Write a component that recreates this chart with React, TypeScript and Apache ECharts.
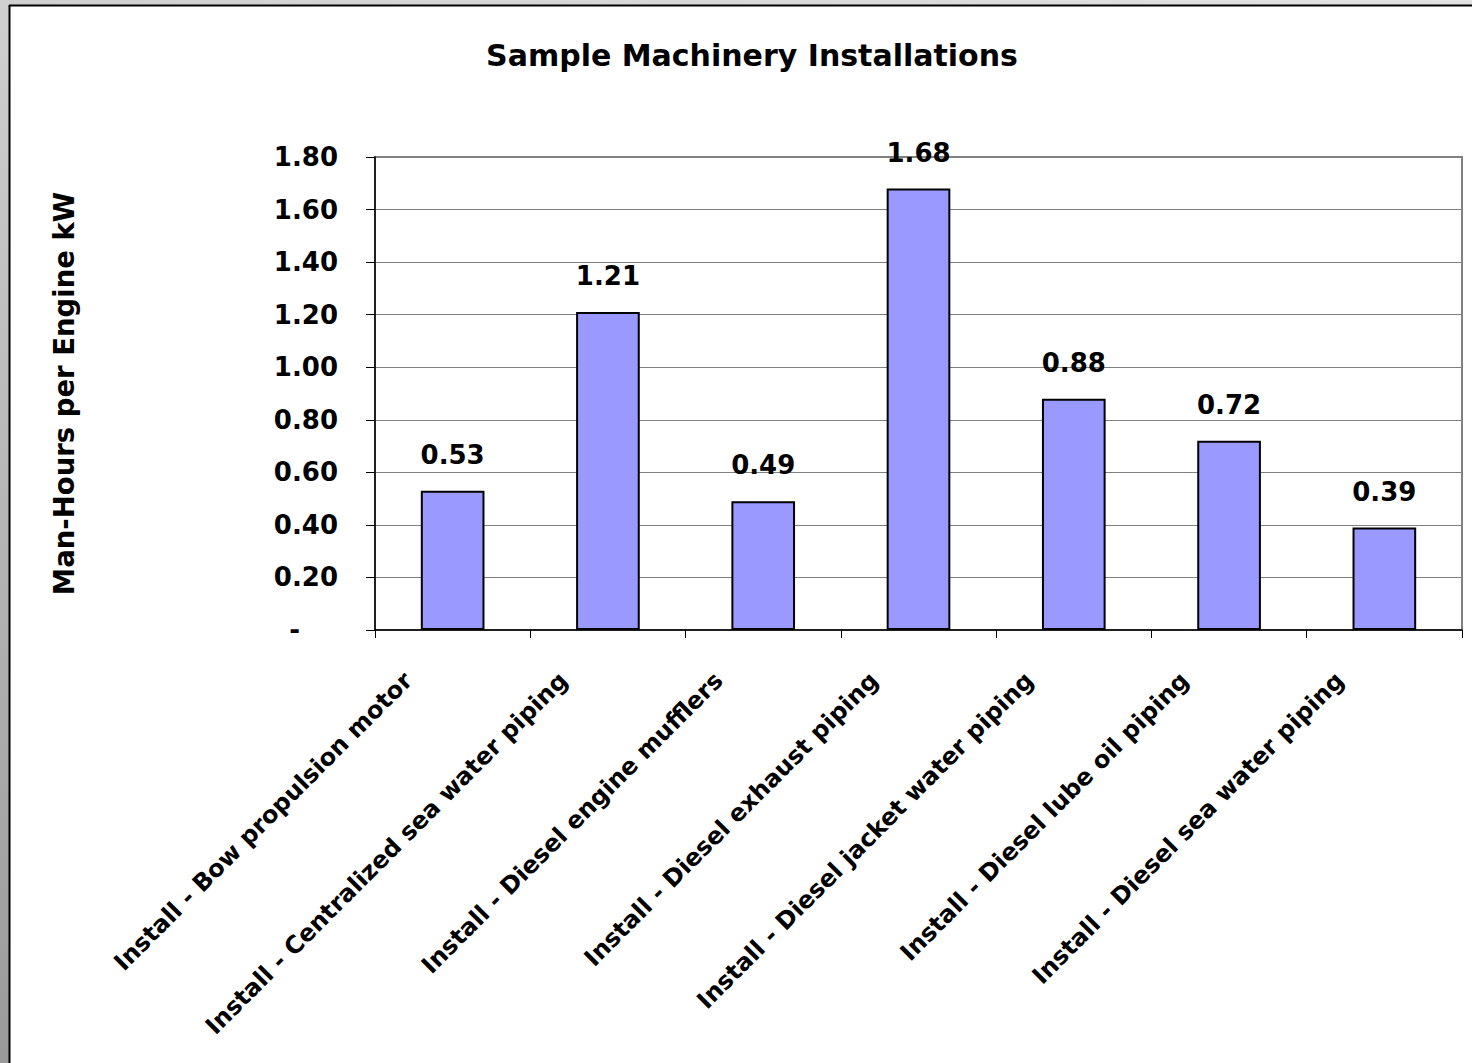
import React, { useEffect, useRef } from "react";
import * as echarts from "echarts";

const categories = [
  "Install - Bow propulsion motor",
  "Install - Centralized sea water piping",
  "Install - Diesel engine mufflers",
  "Install - Diesel exhaust piping",
  "Install - Diesel jacket water piping",
  "Install - Diesel lube oil piping",
  "Install - Diesel sea water piping",
];
const values = [0.53, 1.21, 0.49, 1.68, 0.88, 0.72, 0.39];
const yMin = 0;
const yMax = 1.8;
const yInterval = 0.2;
const titleText = "Sample Machinery Installations";
const yAxisTitle = "Man-Hours per Engine kW";

const FONT = "DejaVu Sans";

export default function App() {
  const ref = useRef<HTMLDivElement>(null);
  useEffect(() => {
    if (!ref.current) return;
    const chart = echarts.init(ref.current, undefined, { renderer: "svg" });
    chart.setOption({
      animation: false,
      backgroundColor: "#ffffff",
      graphic: [
        {
          type: "rect",
          shape: { x: 0, y: 0, width: 1472, height: 5 },
          style: {
            fill: new echarts.graphic.LinearGradient(0, 0, 1, 0, [
              { offset: 0, color: "#cfcfcf" },
              { offset: 1, color: "#e2e2e2" },
            ]),
          },
          silent: true,
        },
        {
          type: "rect",
          shape: { x: 0, y: 0, width: 9, height: 1063 },
          style: {
            fill: new echarts.graphic.LinearGradient(0, 0, 0, 1, [
              { offset: 0, color: "#d0d0d0" },
              { offset: 1, color: "#9a9a9a" },
            ]),
          },
          silent: true,
        },
        {
          type: "line",
          shape: { x1: 9, y1: 5.5, x2: 1472, y2: 5.5 },
          style: { stroke: "#000", lineWidth: 2 },
          silent: true,
        },
        {
          type: "line",
          shape: { x1: 9.5, y1: 5, x2: 9.5, y2: 1063 },
          style: { stroke: "#000", lineWidth: 2 },
          silent: true,
        },
        {
          type: "text",
          x: 752,
          y: 55,
          style: {
            text: titleText,
            fill: "#000",
            font: `bold 30px "${FONT}"`,
            textAlign: "center",
            textVerticalAlign: "middle",
          },
          silent: true,
        },
      ],
      grid: {
        left: 375,
        right: 10,
        top: 157,
        bottom: 433,
        show: true,
        borderColor: "#808080",
        borderWidth: 2,
        backgroundColor: "transparent",
      },
      xAxis: {
        type: "category",
        data: categories,
        axisLine: { show: true, lineStyle: { color: "#000", width: 1.5 } },
        axisTick: {
          show: true,
          alignWithLabel: false,
          length: 8,
          lineStyle: { color: "#000", width: 1 },
        },
        axisLabel: {
          interval: 0,
          rotate: 45,
          margin: 2,
          padding: [0, 63, 0, 0],
          color: "#000",
          fontFamily: FONT,
          fontWeight: "bold",
          fontSize: 24,
        },
        splitLine: { show: false },
      },
      yAxis: {
        type: "value",
        min: yMin,
        max: yMax,
        interval: yInterval,
        name: yAxisTitle,
        nameLocation: "middle",
        nameGap: 297,
        nameTextStyle: {
          color: "#000",
          fontFamily: FONT,
          fontWeight: "bold",
          fontSize: 27.5,
        },
        axisLine: { show: true, lineStyle: { color: "#000", width: 1.5 } },
        axisTick: {
          show: true,
          inside: false,
          length: 9,
          lineStyle: { color: "#000", width: 1 },
        },
        splitLine: { show: true, lineStyle: { color: "#808080", width: 1.2 } },
        axisLabel: {
          margin: 37,
          color: "#000",
          fontFamily: FONT,
          fontWeight: "bold",
          fontSize: 26,
          formatter: (v: number) =>
            Math.abs(v) < 1e-9 ? "{d|-}" : v.toFixed(2),
          rich: {
            d: {
              color: "#000",
              fontFamily: FONT,
              fontWeight: "bold",
              fontSize: 26,
              padding: [0, 38, 0, 0],
            },
          },
        },
      },
      series: [
        {
          type: "bar",
          data: values,
          barWidth: "41%",
          itemStyle: {
            color: "#9999ff",
            borderColor: "#000",
            borderWidth: 2,
          },
          label: {
            show: true,
            position: "top",
            distance: 23,
            color: "#000",
            fontFamily: FONT,
            fontWeight: "bold",
            fontSize: 26,
            formatter: (p: any) => Number(p.value).toFixed(2),
          },
        },
      ],
    });
    return () => chart.dispose();
  }, []);
  return (
    <div
      ref={ref}
      style={{ position: "fixed", left: 0, top: 0, width: 1472, height: 1063 }}
    />
  );
}
